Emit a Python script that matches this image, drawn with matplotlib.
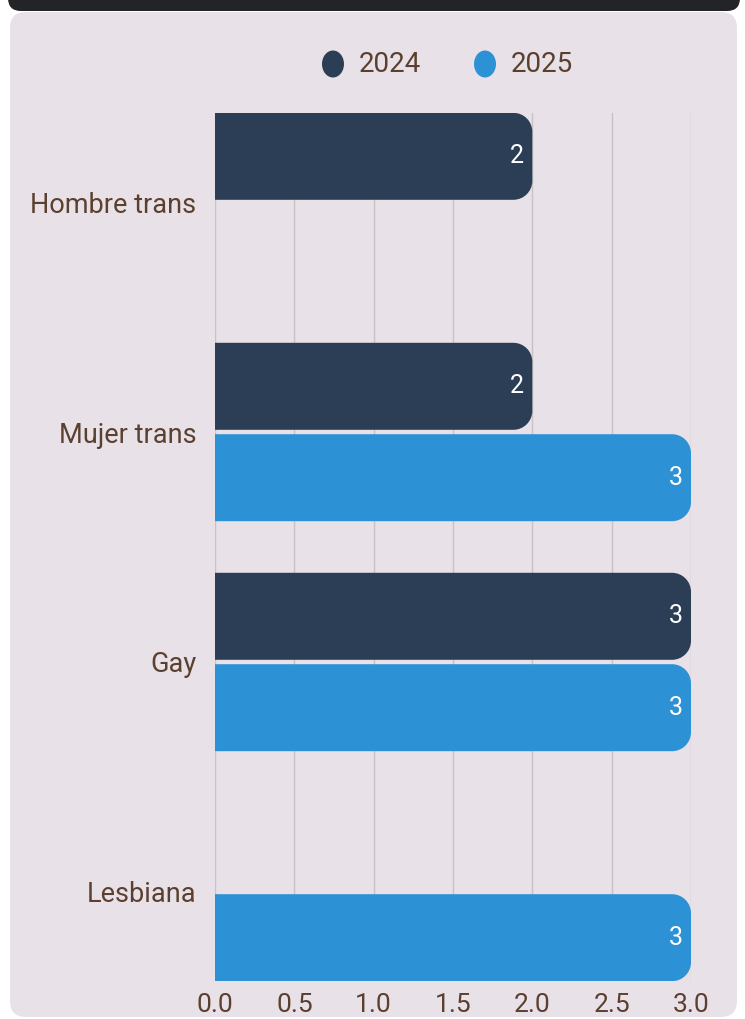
import matplotlib
matplotlib.use('Agg')
import matplotlib.pyplot as plt
import numpy as np
from matplotlib.patches import FancyBboxPatch, Ellipse, PathPatch
from matplotlib.path import Path
from matplotlib.transforms import IdentityTransform

#-------------------------------------------------------------------------------------

categories = ['Hombre trans', 'Mujer trans', 'Gay', 'Lesbiana']
values_2024 = [2, 2, 3, None]
values_2025 = [None, 3, 3, 3]
series_names = ['2024', '2025']
x_ticks = [0.0, 0.5, 1.0, 1.5, 2.0, 2.5, 3.0]

color_2024 = '#2b3e56'
color_2025 = '#2d91d6'
text_brown = '#5b4030'
panel_color = '#e8e2e8'

W, H = 745, 1019
fig = plt.figure(figsize=(W / 100, H / 100), dpi=100)
fig.patch.set_facecolor('white')

# panel and dark header (pixel coordinates, origin bottom-left)
panel = FancyBboxPatch((10, H - 1017), 727, 1017 - 12,
                       boxstyle='round,pad=0,rounding_size=16',
                       transform=IdentityTransform(), facecolor=panel_color,
                       edgecolor='none', zorder=-3)
fig.patches.append(panel)
header = FancyBboxPatch((8, H - 11), 732, 40,
                        boxstyle='round,pad=0,rounding_size=13',
                        transform=IdentityTransform(), facecolor='#232427',
                        edgecolor='none', zorder=-2)
fig.patches.append(header)

ax = fig.add_axes([215 / W, 1 - 981 / H, (691 - 215) / W, (981 - 113) / H])
ax.set_zorder(2)
ax.set_facecolor('none')
for s in ax.spines.values():
    s.set_visible(False)

ax.set_xlim(0, 3)
ax.set_ylim(3.387, -0.387)

px_x = 476 / 3.0     # pixels per x unit
px_y = 230 / 1.0     # pixels per category
bar_h = 87 / px_y
offset = 45.7 / px_y
rx = 19 / px_x
ry = 19 / px_y
k = 0.5523


def rounded_bar(y_center, value, color):
    y0 = y_center - bar_h / 2
    y1 = y_center + bar_h / 2
    verts = [(0, y0), (value - rx, y0),
             (value - rx + k * rx, y0), (value, y0 + ry - k * ry), (value, y0 + ry),
             (value, y1 - ry),
             (value, y1 - ry + k * ry), (value - rx + k * rx, y1), (value - rx, y1),
             (0, y1), (0, y0)]
    codes = [Path.MOVETO, Path.LINETO,
             Path.CURVE4, Path.CURVE4, Path.CURVE4,
             Path.LINETO,
             Path.CURVE4, Path.CURVE4, Path.CURVE4,
             Path.LINETO, Path.CLOSEPOLY]
    ax.add_patch(PathPatch(Path(verts, codes), facecolor=color,
                           edgecolor='none', zorder=3))
    ax.text(value - 8 / px_x, y_center, f'{value:g}', color='white',
            fontsize=18, family=['Roboto', 'DejaVu Sans'],
            ha='right', va='center', zorder=4)


for i, cat in enumerate(categories):
    if values_2024[i] is not None:
        rounded_bar(i - offset, values_2024[i], color_2024)
    if values_2025[i] is not None:
        rounded_bar(i + offset, values_2025[i], color_2025)

# vertical grid
for xv in x_ticks:
    ax.axvline(xv, color='#c9c2c5', lw=1, zorder=1)

ax.set_xticks(x_ticks)
ax.set_xticklabels([f'{t:.1f}' for t in x_ticks],
                   family=['Liberation Sans Narrow', 'Roboto', 'DejaVu Sans'],
                   fontsize=19, color=text_brown)
ax.tick_params(axis='x', length=0, pad=9)
ax.set_yticks(range(len(categories)))
ax.set_yticklabels(categories, family=['Roboto', 'DejaVu Sans'],
                   fontsize=19.5, color=text_brown)
ax.tick_params(axis='y', length=0, pad=13.5)

# legend
legend_x = [333, 485]
for name, col, lx in zip(series_names, [color_2024, color_2025], legend_x):
    fig.patches.append(Ellipse((lx, H - 64), 22, 27, transform=IdentityTransform(),
                               facecolor=col, edgecolor='none', zorder=2))
    fig.text((lx + 26) / W, 1 - 64 / H, name, color=text_brown, fontsize=20,
             family=['Roboto', 'DejaVu Sans'], ha='left', va='center')

plt.savefig('out.png', dpi=100)
